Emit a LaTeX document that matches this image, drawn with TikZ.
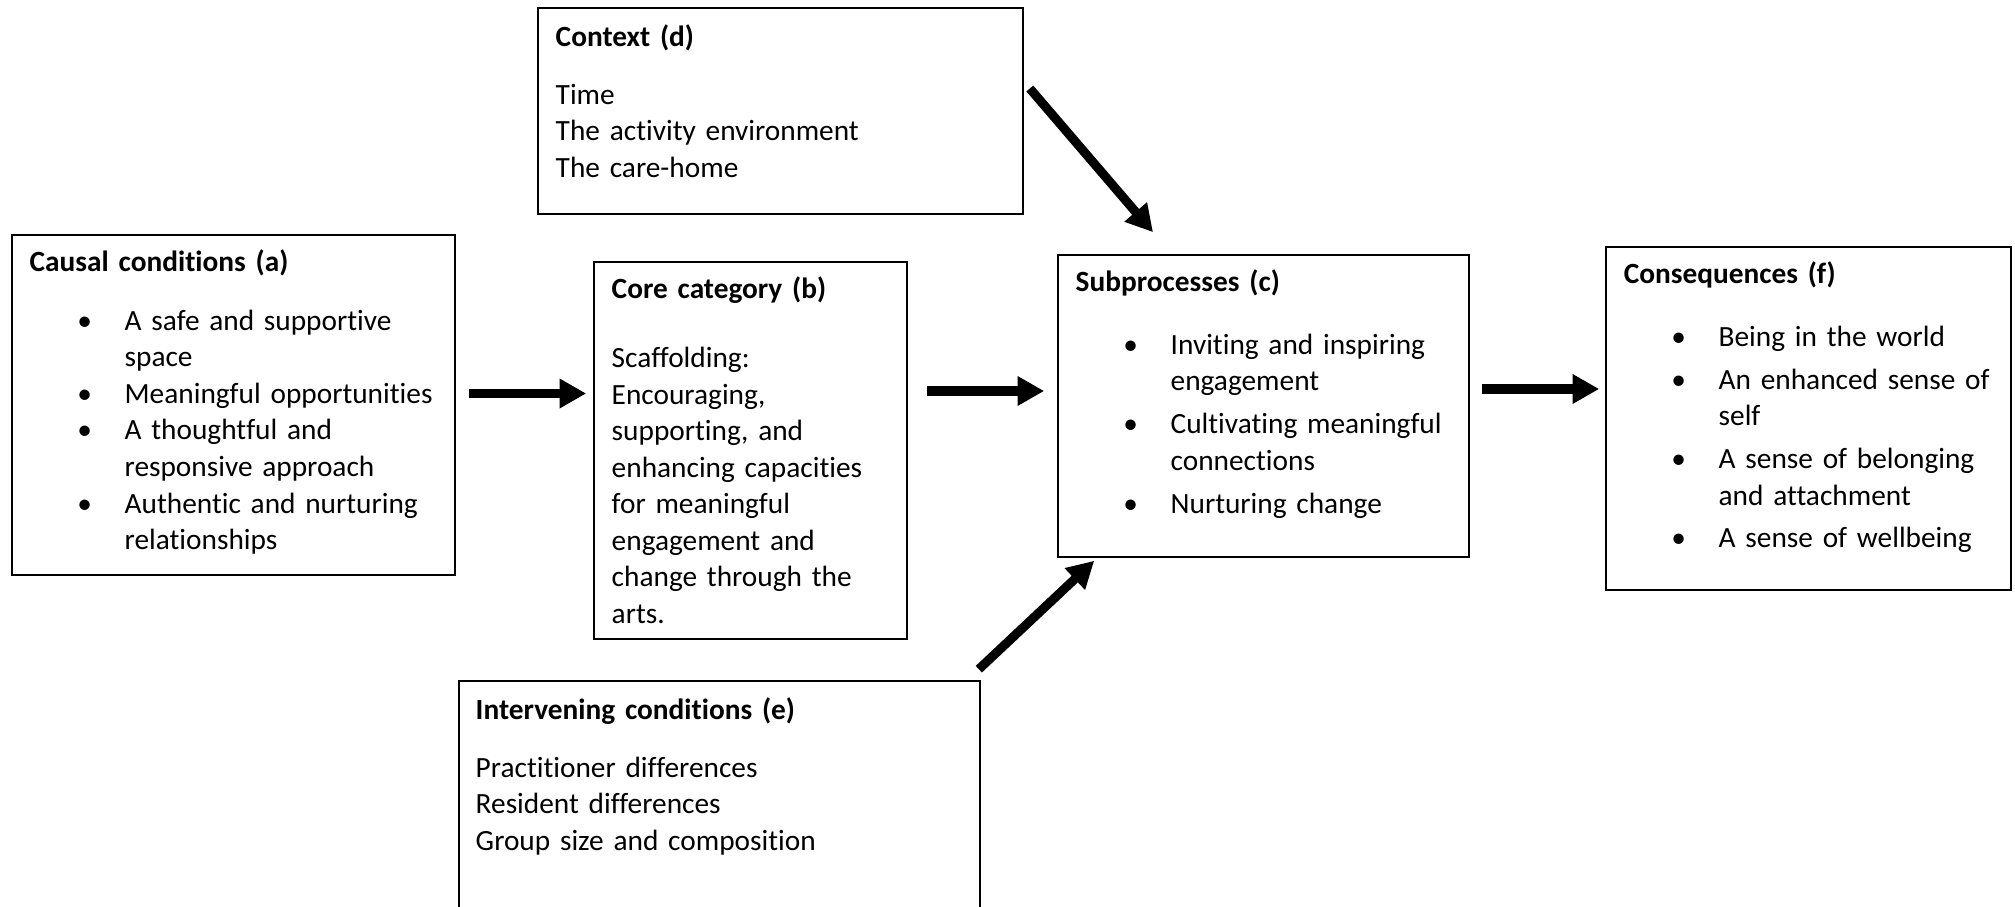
\documentclass[tikz,border=0pt]{standalone}
\usepackage{fontspec}
\setmainfont{Carlito}[Ligatures={NoCommon,NoContextual}]
\usetikzlibrary{calc,fit,arrows.meta}

\newcommand{\bitem}[1]{{\leftskip=35.6pt\noindent\llap{\makebox[0pt]{\textbullet}\hspace{15pt}}#1\par}}
\newcommand{\btitle}[2]{\textbf{#1}\par\vspace{#2}}

\tikzset{
  box/.style={draw=black,line width=0.6pt,inner sep=0pt},
  txt/.style={anchor=base west,inner sep=0pt,text width=180pt,align=left,font=\fontsize{11}{13.7}\selectfont},
  arr/.style={line width=3.4pt,-{Triangle[length=10pt,width=10.5pt]}}
}

\begin{document}
\begin{tikzpicture}[x=0.375pt,y=-0.375pt]
  \clip (0,0) rectangle (2015,907);
  % boxes
  \node[box,fit={(12,235) (455,575)}] (a) {};
  \node[box,fit={(594,262) (907,639)}] (b) {};
  \node[box,fit={(1058,255) (1469,557)}] (c) {};
  \node[box,fit={(538,8) (1023,214)}] (d) {};
  \node[box,fit={(459,681) (980,930)}] (e) {};
  \node[box,fit={(1606,247) (2011,590)}] (f) {};
  % texts
  \node[txt] (a-txt) at ($(a.north west)+(18,37.5)$) {\btitle{Causal conditions (a)}{8.3pt}%
    \bitem{A safe and supportive\newline space}%
    \bitem{Meaningful opportunities}%
    \bitem{A thoughtful and\newline responsive approach}%
    \bitem{Authentic and nurturing\newline relationships}};
  \node[txt] (b-txt) at ($(b.north west)+(18,37.5)$) {\btitle{Core category (b)}{12.2pt}%
    Scaffolding:\newline Encouraging,\newline supporting, and\newline enhancing capacities\newline for meaningful\newline engagement and\newline change through the\newline arts.};
  \node[txt] (c-txt) at ($(c.north west)+(18,37.5)$) {\btitle{Subprocesses (c)}{9.7pt}%
    \bitem{Inviting and inspiring\newline engagement}\vspace{2.4pt}%
    \bitem{Cultivating meaningful\newline connections}\vspace{2.4pt}%
    \bitem{Nurturing change}};
  \node[txt] (d-txt) at ($(d.north west)+(18,39)$) {\btitle{Context (d)}{8pt}%
    Time\newline The activity environment\newline The care-home};
  \node[txt] (e-txt) at ($(e.north west)+(17,39)$) {\btitle{Intervening conditions (e)}{8pt}%
    Practitioner differences\newline Resident differences\newline Group size and composition};
  \node[txt] (f-txt) at ($(f.north west)+(18,37.5)$) {\btitle{Consequences (f)}{9.7pt}%
    \bitem{Being in the world}\vspace{2.4pt}%
    \bitem{An enhanced sense of\newline self}\vspace{2.4pt}%
    \bitem{A sense of belonging\newline and attachment}\vspace{2.4pt}%
    \bitem{A sense of wellbeing}};
  % arrows
  \draw[arr] ($(a.east)+(13,-11.5)$) -- ($(b.west)+(-7,-57)$);
  \draw[arr] ($(b.east)+(19,-59.5)$) -- ($(c.west)+(-13,-15)$);
  \draw[arr] ($(c.east)+(12,-17)$) -- ($(f.west)+(-6,-29.5)$);
  \draw[arr] ($(d.east)+(6,-22.5)$) -- ($(c.north)+(-110.5,-22)$);
  \draw[arr] ($(e.north east)+(-2,-11)$) -- ($(c.south west)+(37,3)$);
\end{tikzpicture}
\end{document}
